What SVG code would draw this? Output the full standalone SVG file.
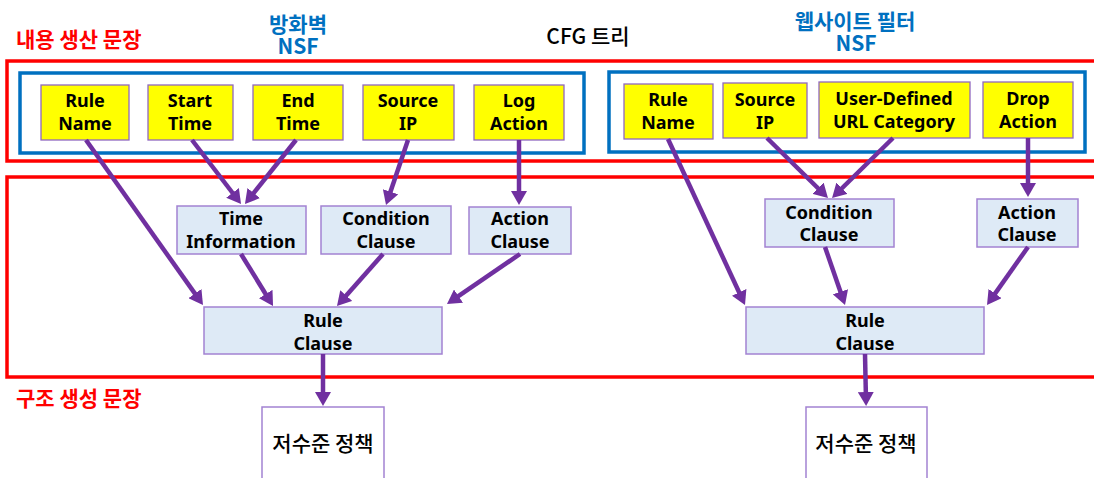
<svg xmlns="http://www.w3.org/2000/svg" width="1094" height="478" viewBox="0 0 1094 478">
  <defs>
    <style>
      .frame { fill: none; stroke: #FF0000; stroke-width: 3.5; }
      .nsf { fill: none; stroke: #0070C0; stroke-width: 3.5; }
      .leaf { fill: #FFFF00; stroke: #9068C0; stroke-width: 1.3; }
      .clause { fill: #DEEAF6; stroke: #A382D2; stroke-width: 1.5; }
      .policy { fill: #FFFFFF; stroke: #A382D2; stroke-width: 1.5; }
      .lbl { font-family: "Noto Sans", "Noto Sans CJK KR", sans-serif; font-weight: bold; font-size: 18px; fill: #000; text-anchor: middle; }
      .kr-red { font-family: "Noto Sans CJK KR", sans-serif; font-weight: bold; font-size: 21px; fill: #FF0000; }
      .kr-blue { font-family: "Noto Sans CJK KR", "Noto Sans", sans-serif; font-weight: bold; font-size: 21px; fill: #0070C0; text-anchor: middle; }
      .title { font-family: "Noto Sans CJK KR", sans-serif; font-weight: 500; font-size: 21px; fill: #000; text-anchor: middle; }
      .policy-txt { font-family: "Noto Sans CJK KR", sans-serif; font-weight: 500; font-size: 21px; fill: #000; text-anchor: middle; }
      .edge { stroke: #7030A0; stroke-width: 4.5; fill: none; marker-end: url(#head); }
    </style>
    <marker id="head" markerUnits="userSpaceOnUse" viewBox="0 0 14 16" markerWidth="14" markerHeight="16" refX="9" refY="8" orient="auto">
      <path d="M0,0 L14,8 L0,16 Z" fill="#7030A0"/>
    </marker>
  </defs>

  <!-- section frames and captions -->
  <g id="frames">
    <rect class="frame" x="7" y="61" width="1100" height="100"/>
    <rect class="frame" x="7" y="177" width="1100" height="200"/>
    <text class="kr-red" x="16" y="47">내용 생산 문장</text>
    <text class="kr-red" x="16" y="406">구조 생성 문장</text>
    <text class="title" x="588" y="44">CFG 트리</text>
  </g>

  <!-- firewall NSF group -->
  <g id="firewall-nsf">
    <rect class="nsf" x="20" y="73" width="564" height="80"/>
    <text class="kr-blue" x="298" y="32">방화벽<tspan x="298" dy="22">NSF</tspan></text>
  </g>

  <!-- web filter NSF group -->
  <g id="webfilter-nsf">
    <rect class="nsf" x="609" y="72" width="476" height="80"/>
    <text class="kr-blue" x="855" y="29">웹사이트 필터<tspan x="856" dy="22">NSF</tspan></text>
  </g>

  <!-- firewall leaves -->
  <g id="fw-rule-name">
    <rect class="leaf" x="41" y="85" width="88" height="55"/>
    <text class="lbl" x="85" y="107">Rule<tspan x="85" dy="23">Name</tspan></text>
  </g>
  <g id="fw-start-time">
    <rect class="leaf" x="148" y="85" width="85" height="55"/>
    <text class="lbl" x="190" y="107">Start<tspan x="190" dy="23">Time</tspan></text>
  </g>
  <g id="fw-end-time">
    <rect class="leaf" x="253" y="85" width="90" height="55"/>
    <text class="lbl" x="298" y="107">End<tspan x="298" dy="23">Time</tspan></text>
  </g>
  <g id="fw-source-ip">
    <rect class="leaf" x="363" y="85" width="91" height="55"/>
    <text class="lbl" x="408" y="107">Source<tspan x="408" dy="23">IP</tspan></text>
  </g>
  <g id="fw-log-action">
    <rect class="leaf" x="474" y="85" width="90" height="55"/>
    <text class="lbl" x="519" y="107">Log<tspan x="519" dy="23">Action</tspan></text>
  </g>

  <!-- web filter leaves -->
  <g id="wf-rule-name">
    <rect class="leaf" x="624" y="84" width="89" height="55"/>
    <text class="lbl" x="668" y="106">Rule<tspan x="668" dy="23">Name</tspan></text>
  </g>
  <g id="wf-source-ip">
    <rect class="leaf" x="723" y="83" width="84" height="55"/>
    <text class="lbl" x="765" y="106">Source<tspan x="765" dy="23">IP</tspan></text>
  </g>
  <g id="wf-url-category">
    <rect class="leaf" x="819" y="82" width="151" height="56"/>
    <text class="lbl" x="894" y="105">User-Defined<tspan x="894" dy="23">URL Category</tspan></text>
  </g>
  <g id="wf-drop-action">
    <rect class="leaf" x="983" y="82" width="90" height="56"/>
    <text class="lbl" x="1028" y="105">Drop<tspan x="1028" dy="23">Action</tspan></text>
  </g>

  <!-- firewall clauses -->
  <g id="fw-time-info">
    <rect class="clause" x="177" y="206" width="129" height="48"/>
    <text class="lbl" x="241" y="225">Time<tspan x="241" dy="23">Information</tspan></text>
  </g>
  <g id="fw-condition">
    <rect class="clause" x="321" y="206" width="130" height="48"/>
    <text class="lbl" x="386" y="225">Condition<tspan x="386" dy="23">Clause</tspan></text>
  </g>
  <g id="fw-action">
    <rect class="clause" x="469" y="207" width="102" height="47"/>
    <text class="lbl" x="520" y="225">Action<tspan x="520" dy="23">Clause</tspan></text>
  </g>
  <g id="fw-rule-clause">
    <rect class="clause" x="204" y="307" width="238" height="47"/>
    <text class="lbl" x="323" y="327">Rule<tspan x="323" dy="23">Clause</tspan></text>
  </g>
  <g id="fw-policy">
    <rect class="policy" x="262" y="407" width="122" height="90"/>
    <text class="policy-txt" x="323" y="451">저수준 정책</text>
  </g>

  <!-- web filter clauses -->
  <g id="wf-condition">
    <rect class="clause" x="765" y="199" width="129" height="48"/>
    <text class="lbl" x="829" y="219">Condition<tspan x="829" dy="22">Clause</tspan></text>
  </g>
  <g id="wf-action">
    <rect class="clause" x="977" y="199" width="101" height="48"/>
    <text class="lbl" x="1027" y="219">Action<tspan x="1027" dy="22">Clause</tspan></text>
  </g>
  <g id="wf-rule-clause">
    <rect class="clause" x="746" y="307" width="238" height="47"/>
    <text class="lbl" x="865" y="327">Rule<tspan x="865" dy="23">Clause</tspan></text>
  </g>
  <g id="wf-policy">
    <rect class="policy" x="806" y="407" width="121" height="90"/>
    <text class="policy-txt" x="866" y="451">저수준 정책</text>
  </g>

  <!-- connectors -->
  <g id="connectors">
    <line class="edge" x1="86" y1="140" x2="200.1" y2="300.9"/>
    <line class="edge" x1="192" y1="140" x2="238" y2="200"/>
    <line class="edge" x1="296" y1="140" x2="248.1" y2="200.1"/>
    <line class="edge" x1="408" y1="140" x2="387.6" y2="200.3"/>
    <line class="edge" x1="519" y1="140" x2="519" y2="200"/>
    <line class="edge" x1="241" y1="254" x2="270.4" y2="301.7"/>
    <line class="edge" x1="383" y1="254" x2="340.3" y2="302.3"/>
    <line class="edge" x1="520" y1="254" x2="451.1" y2="301.2"/>
    <line class="edge" x1="323" y1="354" x2="323" y2="401"/>

    <line class="edge" x1="668" y1="139" x2="742.9" y2="300.5"/>
    <line class="edge" x1="767" y1="138" x2="824.4" y2="194.5"/>
    <line class="edge" x1="893" y1="138" x2="835.6" y2="194.5"/>
    <line class="edge" x1="1028" y1="138" x2="1028" y2="192"/>
    <line class="edge" x1="825" y1="247" x2="843.4" y2="300.3"/>
    <line class="edge" x1="1028" y1="247" x2="989.9" y2="300.9"/>
    <line class="edge" x1="865" y1="354" x2="866" y2="401"/>
  </g>
</svg>
